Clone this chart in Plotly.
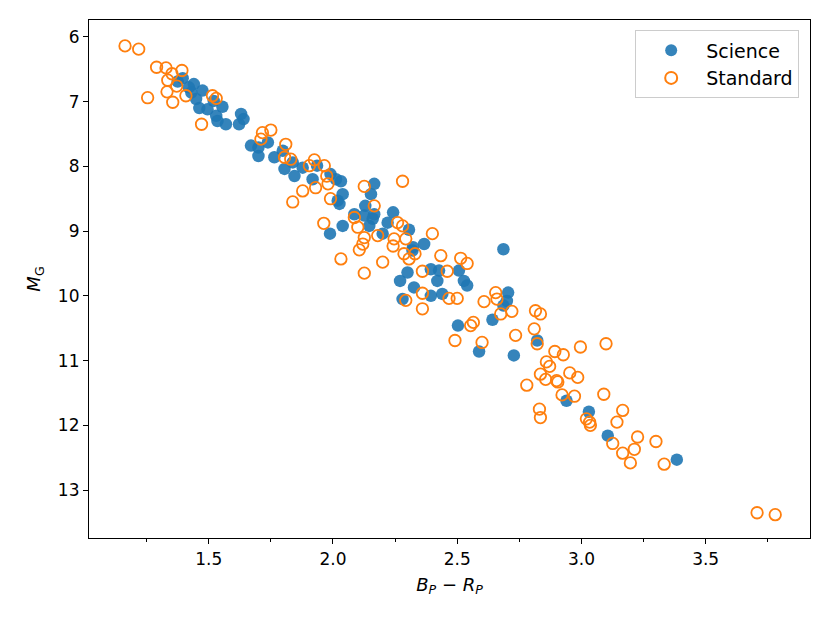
import plotly.graph_objects as go

science_bp_rp = [1.375, 1.395, 1.42, 1.44, 1.475, 1.43, 1.449, 1.462, 1.495, 1.52, 1.555, 1.53, 1.569,
                 1.535, 1.622, 1.64, 1.63, 1.67, 1.70, 1.738, 1.70, 1.764, 1.798, 1.805, 1.838, 1.845,
                 1.878, 1.936, 1.918, 1.99, 2.012, 2.032, 2.039, 2.019, 2.026, 2.166, 2.153, 2.13, 2.086,
                 2.126, 2.166, 2.16, 2.146, 2.242, 2.22, 2.306, 2.20, 2.039, 1.988, 2.322, 2.367, 2.32,
                 2.686, 2.30, 2.27, 2.326, 2.28, 2.394, 2.427, 2.42, 2.394, 2.44, 2.507, 2.527, 2.54,
                 2.705, 2.70, 2.686, 2.642, 2.503, 2.822, 2.588, 2.728, 2.94, 3.03, 3.106, 3.384]
science_mg = [6.69, 6.64, 6.78, 6.73, 6.83, 6.86, 6.96, 7.10, 7.12, 6.99, 7.08, 7.22, 7.35,
              7.30, 7.35, 7.27, 7.19, 7.68, 7.71, 7.63, 7.84, 7.86, 7.76, 8.04, 7.94, 8.15,
              8.02, 7.99, 8.20, 8.12, 8.20, 8.23, 8.43, 8.53, 8.58, 8.27, 8.43, 8.61, 8.74,
              8.76, 8.74, 8.81, 8.92, 8.71, 8.87, 8.98, 9.04, 8.92, 9.04, 9.25, 9.20, 9.30,
              9.28, 9.64, 9.77, 9.87, 10.05, 9.59, 9.61, 9.77, 10.0, 9.97, 9.61, 9.77, 9.84,
              9.95, 10.08, 10.15, 10.37, 10.46, 10.69, 10.86, 10.92, 11.62, 11.79, 12.16, 12.53]

standard_bp_rp = [1.163, 1.218, 1.290, 1.328, 1.392, 1.352, 1.335, 1.371, 1.332, 1.254, 1.355, 1.408,
                  1.515, 1.53, 1.471, 1.716, 1.75, 1.71, 1.81, 1.805, 1.83, 1.925, 1.965, 1.905,
                  1.878, 1.838, 1.93, 1.98, 1.975, 1.99, 2.126, 2.28, 2.166, 2.086, 2.10, 1.963,
                  2.126, 2.12, 2.106, 2.032, 2.20, 2.126, 2.26, 2.28, 2.246, 2.242, 2.293, 2.286,
                  2.33, 2.18, 2.40, 2.434, 2.514, 2.54, 2.36, 2.46, 2.36, 2.467, 2.50, 2.36,
                  2.293, 2.608, 2.655, 2.66, 2.72, 2.675, 2.815, 2.835, 2.565, 2.554, 2.491, 2.60,
                  2.735, 2.81, 2.822, 2.893, 2.927, 2.996, 3.099, 2.859, 2.872, 2.835, 2.856, 2.90,
                  2.905, 2.953, 2.985, 2.78, 2.922, 2.972, 3.09, 2.831, 2.835, 3.02, 3.033, 3.036,
                  3.166, 3.143, 3.226, 3.213, 3.30, 3.126, 3.166, 3.197, 3.333, 3.707, 3.78, 2.306]
standard_mg = [6.14, 6.19, 6.47, 6.48, 6.52, 6.57, 6.67, 6.76, 6.85, 6.94, 7.01, 6.91,
               6.91, 6.95, 7.35, 7.48, 7.44, 7.58, 7.66, 7.86, 7.89, 7.90, 7.99, 7.99,
               8.38, 8.55, 8.33, 8.27, 8.15, 8.50, 8.31, 8.23, 8.61, 8.79, 8.94, 8.88,
               9.10, 9.20, 9.29, 9.43, 9.48, 9.65, 8.87, 8.92, 9.12, 9.23, 9.12, 9.35,
               9.35, 9.07, 9.04, 9.38, 9.42, 9.50, 9.62, 9.62, 9.96, 10.04, 10.04, 10.20,
               10.07, 10.09, 9.95, 10.05, 10.24, 10.28, 10.23, 10.28, 10.41, 10.46, 10.69, 10.72,
               10.61, 10.51, 10.74, 10.86, 10.91, 10.79, 10.74, 11.02, 11.09, 11.21, 11.29, 11.31,
               11.33, 11.19, 11.26, 11.38, 11.53, 11.55, 11.52, 11.75, 11.88, 11.90, 11.95, 12.0,
               11.77, 11.95, 12.18, 12.37, 12.25, 12.28, 12.43, 12.58, 12.60, 13.35, 13.38, 9.43]

x_tickvals = [1.5, 2.0, 2.5, 3.0, 3.5]
x_ticktext = ["1.5", "2.0", "2.5", "3.0", "3.5"]
y_tickvals = [6, 7, 8, 9, 10, 11, 12, 13]

fig = go.Figure()
fig.add_trace(go.Scatter(
    x=science_bp_rp, y=science_mg, mode="markers", name="Science",
    marker=dict(color="#1f77b4", size=12.5, opacity=0.9, line=dict(width=0)),
))
fig.add_trace(go.Scatter(
    x=standard_bp_rp, y=standard_mg, mode="markers", name="Standard",
    marker=dict(symbol="circle-open", color="#ff7f0e", size=11.5, line=dict(width=1.8)),
))

font = "DejaVu Sans, Arial, sans-serif"
fig.update_layout(
    width=830, height=623,
    margin=dict(l=81, r=28, t=12, b=93, autoexpand=False),
    paper_bgcolor="white", plot_bgcolor="white",
    font=dict(family=font, size=17, color="black"),
    showlegend=True,
    legend=dict(x=0.985, y=0.98, xanchor="right", yanchor="top",
                bordercolor="#cccccc", borderwidth=1, bgcolor="rgba(255,255,255,0.8)",
                font=dict(size=19), itemsizing="constant", itemwidth=60, tracegroupgap=6),
    xaxis=dict(range=[1.018, 3.92], tickvals=x_tickvals, ticktext=x_ticktext,
               ticks="outside", ticklen=5, tickcolor="black", showgrid=False, zeroline=False,
               showline=True, linecolor="black", linewidth=1.2, mirror=True,
               minor=dict(dtick=0.25, tick0=1.25, ticks="outside", ticklen=3, tickcolor="black", showgrid=False),
               title=dict(text="<i>B<sub>P</sub></i> − <i>R<sub>P</sub></i>", font=dict(size=18), standoff=10)),
    yaxis=dict(range=[13.74, 5.74], tickvals=y_tickvals,
               ticks="outside", ticklen=5, tickcolor="black", showgrid=False, zeroline=False,
               showline=True, linecolor="black", linewidth=1.2, mirror=True,
               title=dict(text="<i>M</i><sub>G</sub>", font=dict(size=18), standoff=12)),
)
fig.write_html("out.html")
